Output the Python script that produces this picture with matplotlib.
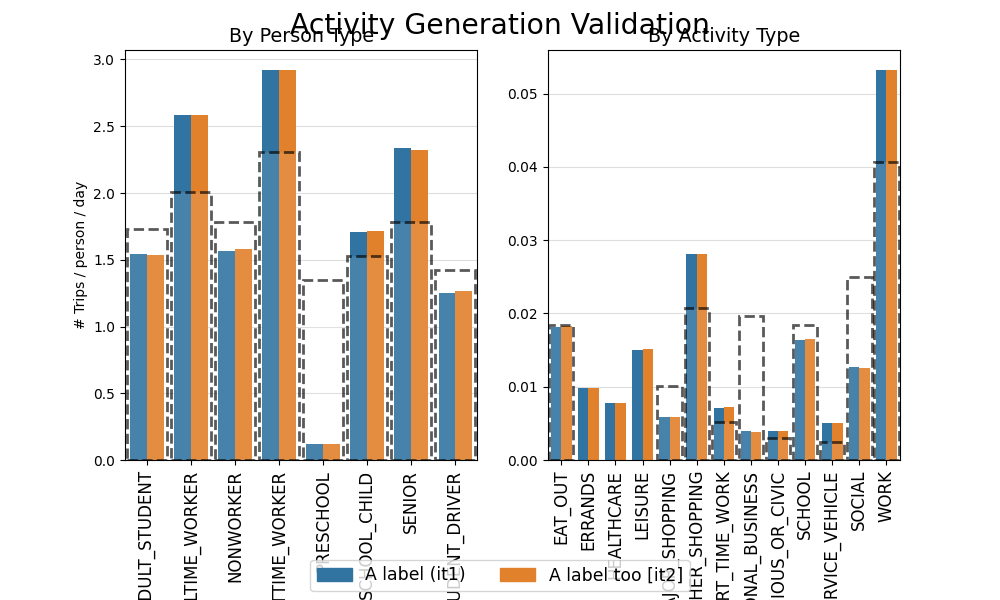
import numpy as np
import matplotlib
matplotlib.use("Agg")
import matplotlib.pyplot as plt
from matplotlib.patches import Patch

person_types = ["ADULT_STUDENT", "FULLTIME_WORKER", "NONWORKER", "PARTTIME_WORKER",
                "PRESCHOOL", "SCHOOL_CHILD", "SENIOR", "STUDENT_DRIVER"]
person_it1 = [1.545, 2.585, 1.568, 2.925, 0.120, 1.710, 2.340, 1.253]
person_it2 = [1.538, 2.585, 1.583, 2.925, 0.120, 1.718, 2.325, 1.268]
person_target = [1.733, 2.008, 1.780, 2.310, 1.350, 1.528, 1.785, 1.425]

activity_types = ["EAT_OUT", "ERRANDS", "HEALTHCARE", "LEISURE", "MAJOR_SHOPPING",
                  "OTHER_SHOPPING", "PART_TIME_WORK", "PERSONAL_BUSINESS",
                  "RELIGIOUS_OR_CIVIC", "SCHOOL", "SERVICE_VEHICLE", "SOCIAL", "WORK"]
activity_it1 = [0.01817, 0.00988, 0.00779, 0.01503, 0.00587, 0.02814, 0.00710,
                0.00396, 0.00396, 0.01639, 0.00505, 0.01270, 0.05328]
activity_it2 = [0.01835, 0.00988, 0.00779, 0.01516, 0.00587, 0.02814, 0.00724,
                0.00383, 0.00396, 0.01653, 0.00505, 0.01257, 0.05328]
activity_target = [0.01844, np.nan, np.nan, np.nan, 0.01011, 0.02077, 0.00519,
                   0.01967, 0.00301, 0.01844, 0.00246, 0.02500, 0.04071]

series_labels = ["A label (it1)", "A label too [it2]"]
colors = ["#3274a1", "#e1812c"]

fig, axes = plt.subplots(1, 2, figsize=(10, 6), dpi=100)
fig.subplots_adjust(top=0.9167, bottom=0.2333, left=0.125, right=0.9, wspace=0.2)


def draw(ax, cats, it1, it2, target, title):
    x = np.arange(len(cats))
    bw = 0.38
    ax.set_axisbelow(True)
    ax.grid(axis="y", color="#dddddd", linewidth=0.8)
    ax.bar(x - bw / 2, it1, width=bw, color=colors[0], zorder=2)
    ax.bar(x + bw / 2, it2, width=bw, color=colors[1], zorder=2)
    t = np.array(target, dtype=float)
    m = ~np.isnan(t)
    ax.bar(x[m], t[m], width=0.9, facecolor=(1, 1, 1, 0.1),
           edgecolor=(0, 0, 0, 0.65), linestyle="--", linewidth=2, zorder=3)
    ax.set_xticks(x)
    ax.set_xticklabels(cats, rotation=90, fontsize=12)
    ax.set_xlim(-0.5, len(cats) - 0.5)
    ax.set_title(title, fontsize=13.8)


draw(axes[0], person_types, person_it1, person_it2, person_target, "By Person Type")
draw(axes[1], activity_types, activity_it1, activity_it2, activity_target, "By Activity Type")
axes[0].set_ylabel("# Trips / person / day")

fig.suptitle("Activity Generation Validation", fontsize=20.3)
handles = [Patch(color=c, label=l) for c, l in zip(colors, series_labels)]
fig.legend(handles=handles, loc="lower center", ncol=2, fontsize=12.4)

fig.savefig("out.png", dpi=100)
